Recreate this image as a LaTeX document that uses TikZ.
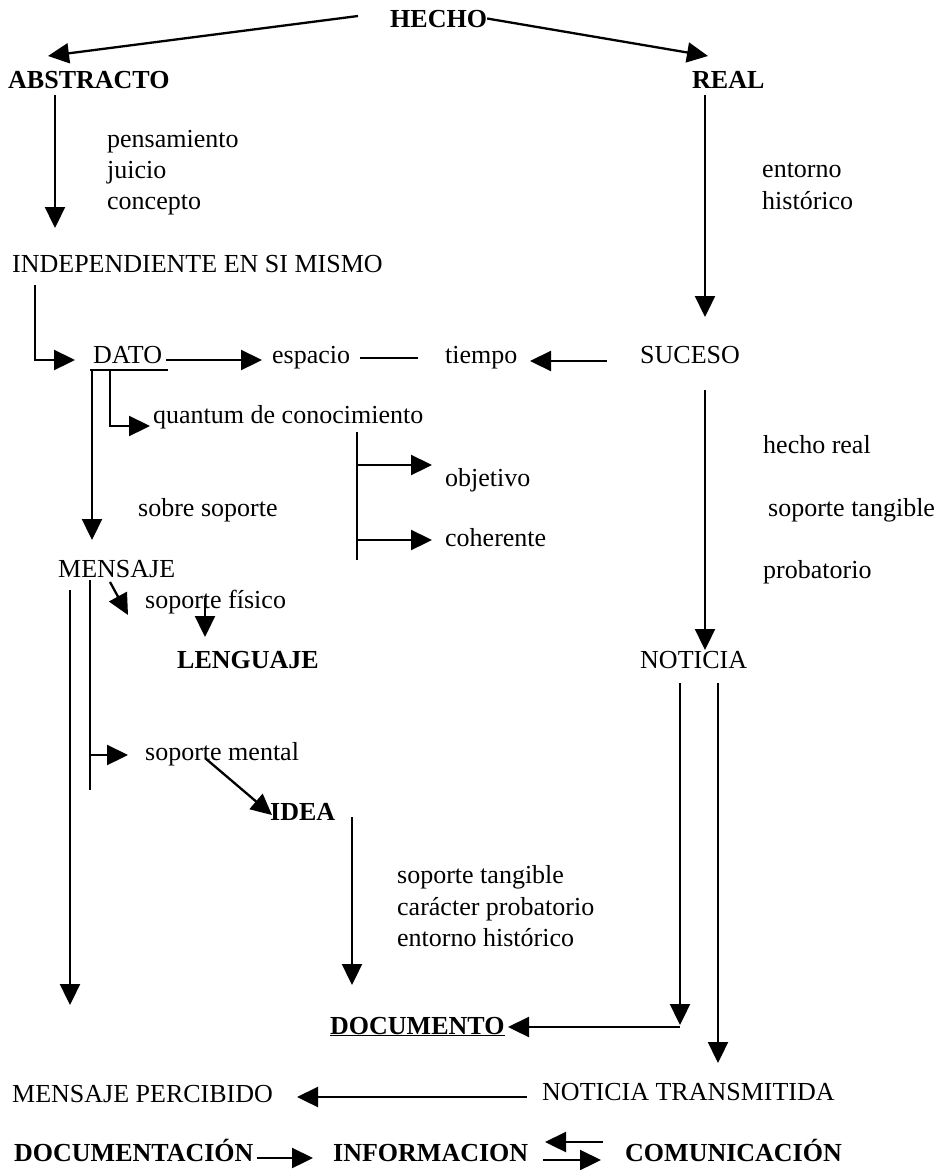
\documentclass[tikz,border=0pt]{standalone}
\usepackage{fontspec}
\setmainfont{Liberation Serif}
\usetikzlibrary{arrows.meta}
\begin{document}
\begin{tikzpicture}[x=1pt,y=-1pt,
  txt/.style={inner sep=0pt,anchor=base west,font=\fontsize{26}{30}\selectfont},
  btxt/.style={txt,font=\fontsize{26}{30}\selectfont\bfseries},
  arr/.style={line width=2.3pt,-{Triangle[length=21pt,width=20pt]}},
  ln/.style={line width=2.3pt}]
\useasboundingbox (0,0) rectangle (945,1170);
% nodes
\node[btxt] (hecho) at (390,27) {HECHO};
\node[btxt] (abs) at (8,88) {ABSTRACTO};
\node[btxt] (real) at (692,88) {REAL};
\node[txt] (pens) at (107,147) {pensamiento};
\node[txt] (juicio) at (107,178) {juicio};
\node[txt] (concepto) at (107,209) {concepto};
\node[txt] (indep) at (12,272) {INDEPENDIENTE EN SI MISMO};
\node[txt] (entorno) at (762,177) {entorno};
\node[txt] (hist) at (762,209) {histórico};
\node[txt] (dato) at (93,363) {DATO};
\node[txt] (espacio) at (272,363) {espacio};
\node[txt] (tiempo) at (445,363) {tiempo};
\node[txt] (suceso) at (640,363) {SUCESO};
\node[txt] (quantum) at (153,423) {quantum de conocimiento};
\node[txt] (objetivo) at (445,486) {objetivo};
\node[txt] (coherente) at (445,546) {coherente};
\node[txt] (sobre) at (138,516) {sobre soporte};
\node[txt] (mensaje) at (58,577) {MENSAJE};
\node[txt] (hreal) at (763,453) {hecho real};
\node[txt] (stang) at (768,516) {soporte tangible};
\node[txt] (prob) at (763,578) {probatorio};
\node[txt] (sopfis) at (145,608) {soporte físico};
\node[btxt] (leng) at (177,668) {LENGUAJE};
\node[txt] (noticia) at (640,668) {NOTICIA};
\node[txt] (sopmen) at (145,760) {soporte mental};
\node[btxt] (idea) at (270,820) {IDEA};
\node[txt] (stang2) at (397,883) {soporte tangible};
\node[txt] (carac) at (397,915) {carácter probatorio};
\node[txt] (ent2) at (397,946) {entorno histórico};
\node[btxt] (doc) at (330,1034) {\underline{DOCUMENTO}};
\node[txt] (mp) at (12,1102) {MENSAJE PERCIBIDO};
\node[txt] (nt) at (542,1100) {NOTICIA TRANSMITIDA};
\node[btxt] (docn) at (14,1161) {DOCUMENTACIÓN};
\node[btxt] (info) at (333,1161) {INFORMACION};
\node[btxt] (comu) at (625,1161) {COMUNICACIÓN};
% connectors
\draw[arr] (358,16) -- (48,56);
\draw[arr] (hecho.east) -- (708,56);
\draw[arr] (55,95) -- (55,228);
\draw[arr] (705,95) -- (705,317);
\draw[arr] (35,285) -- (35,360) -- (75,360);
\draw[arr] (166,360) -- (262,360);
\draw[ln] (360,358) -- (418,358);
\draw[arr] (607,361) -- (530,361);
\draw[ln] (90,370) -- (168,370);
\draw[arr] (92,370) -- (92,540);
\draw[arr] (110,370) -- (110,426) -- (150,426);
\draw[ln] (357,432) -- (357,560);
\draw[arr] (357,465) -- (432,465);
\draw[arr] (357,540) -- (432,540);
\draw[arr] (705,390) -- (705,650);
\draw[arr] (70,590) -- (70,1005);
\draw[ln] (90,580) -- (90,790);
\draw[arr] (90,755) -- (128,755);
\draw[arr] (110,582) -- (128,615);
\draw[arr] (205,598) -- (205,637);
\draw[arr] (205,758) -- (272,815);
\draw[arr] (352,817) -- (352,985);
\draw[arr] (680,683) -- (680,1025);
\draw[arr] (680,1027) -- (508,1027);
\draw[arr] (718,683) -- (718,1063);
\draw[arr] (527,1097) -- (297,1097);
\draw[arr] (257,1158) -- (313,1158);
\draw[arr] (603,1142) -- (545,1142);
\draw[arr] (543,1160) -- (601,1160);
\end{tikzpicture}
\end{document}
